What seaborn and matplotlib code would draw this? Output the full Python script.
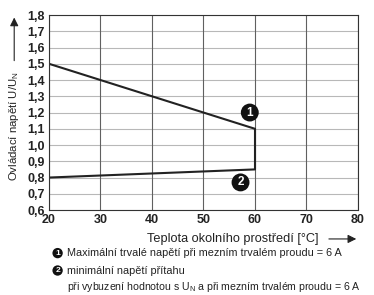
import matplotlib
matplotlib.use("Agg")
import matplotlib.pyplot as plt
import seaborn as sns

sns.set_theme(style="white")
plt.rcParams['font.family'] = ['Liberation Sans', 'DejaVu Sans']

# Data
temp_upper = [20, 60]
volt_upper = [1.5, 1.1]
temp_edge = [60, 60]
volt_edge = [1.1, 0.85]
temp_lower = [20, 60]
volt_lower = [0.8, 0.85]
x_ticks = [20, 30, 40, 50, 60, 70, 80]
y_ticks = [0.6, 0.7, 0.8, 0.9, 1.0, 1.1, 1.2, 1.3, 1.4, 1.5, 1.6, 1.7, 1.8]
y_tick_labels = ["0,6", "0,7", "0,8", "0,9", "1,0", "1,1", "1,2", "1,3", "1,4", "1,5", "1,6", "1,7", "1,8"]
marker_labels = ["1", "2"]
marker_x = [59, 57.2]
marker_y = [1.2, 0.77]

fig = plt.figure(figsize=(3.74, 2.95), dpi=100)
ax = fig.add_axes([0.131, 0.288, 0.826, 0.661])

for ys in y_ticks:
    ax.axhline(ys, color="#b8b8b8", lw=0.8, zorder=0)
for xs in x_ticks:
    ax.axvline(xs, color="#606060", lw=0.8, zorder=0)

line_kw = dict(color="#222222", linewidth=1.5, ax=ax, legend=False)
sns.lineplot(x=temp_upper, y=volt_upper, **line_kw)
sns.lineplot(x=temp_edge, y=volt_edge, estimator=None, sort=False, **line_kw)
sns.lineplot(x=temp_lower, y=volt_lower, **line_kw)

for lab, mx, my in zip(marker_labels, marker_x, marker_y):
    ax.text(mx, my, lab, ha="center", va="center", color="white", fontsize=8.5, fontweight="bold",
            bbox=dict(boxstyle="circle,pad=0.25", fc="#111111", ec="none"), zorder=5)

ax.set_xlim(20, 80)
ax.set_ylim(0.6, 1.8)
ax.set_xticks(x_ticks)
ax.set_xticklabels([str(v) for v in x_ticks], fontsize=9, fontweight="bold", color="#222222")
ax.set_yticks(y_ticks)
ax.set_yticklabels(y_tick_labels, fontsize=9, fontweight="bold", color="#222222")
ax.tick_params(axis="both", length=0, pad=3)
for s in ax.spines.values():
    s.set_color("#333333")
    s.set_linewidth(0.8)

# axis labels with arrows
fig.text(0.038, 0.573, "Ovládací napětí U/U$_\\mathregular{N}$", rotation=90, ha="center", va="center",
         fontsize=8.2, color="#222222")
fig.add_artist(matplotlib.patches.FancyArrowPatch((0.038, 0.785), (0.038, 0.95), transform=fig.transFigure,
               arrowstyle="-|>,head_length=5,head_width=2.5", color="#222222", lw=0.8, mutation_scale=1))
fig.text(0.393, 0.19, "Teplota okolního prostředí [°C]", ha="left", va="center", fontsize=9.2, color="#222222")
fig.add_artist(matplotlib.patches.FancyArrowPatch((0.872, 0.19), (0.96, 0.19), transform=fig.transFigure,
               arrowstyle="-|>,head_length=5,head_width=2.5", color="#222222", lw=0.8, mutation_scale=1))

# notes
fig.text(0.154, 0.142, "1", ha="center", va="center", color="white", fontsize=6, fontweight="bold",
         bbox=dict(boxstyle="circle,pad=0.2", fc="#111111", ec="none"))
fig.text(0.179, 0.142, "Maximální trvalé napětí při mezním trvalém proudu = 6 A", ha="left", va="center",
         fontsize=7.8, color="#222222")
fig.text(0.154, 0.083, "2", ha="center", va="center", color="white", fontsize=6, fontweight="bold",
         bbox=dict(boxstyle="circle,pad=0.2", fc="#111111", ec="none"))
fig.text(0.179, 0.083, "minimální napětí přítahu", ha="left", va="center", fontsize=7.8, color="#222222")
fig.text(0.179, 0.026, "při vybuzení hodnotou s U$_\\mathregular{N}$ a při mezním trvalém proudu = 6 A",
         ha="left", va="center", fontsize=7.6, color="#222222")

fig.savefig("out.png", dpi=100)
